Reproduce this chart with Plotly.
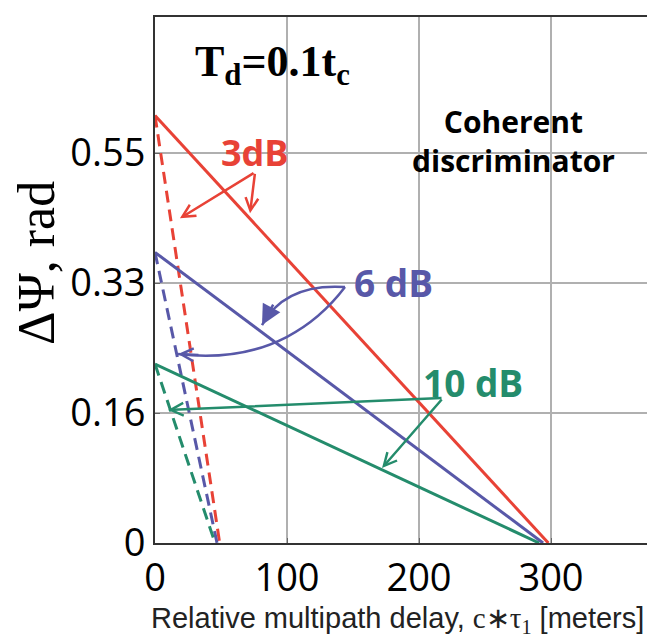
import plotly.graph_objects as go

# ---- data ----
delay_solid_3db = [0, 298]
delay_dash_3db = [0, 49]
psi_3db = [0.603, 0]

delay_solid_6db = [0, 294]
delay_dash_6db = [0, 47]
psi_6db = [0.410, 0]

delay_solid_10db = [0, 291]
delay_dash_10db = [0, 45.5]
psi_10db = [0.2524, 0]

x_tick_vals = [0, 100, 200, 300]
y_tick_vals = [0, 0.18333, 0.36667, 0.55]
y_tick_text = ["0", "0.16", "0.33", "0.55"]

RED = "rgb(232,66,54)"
BLUE = "rgb(88,88,168)"
GREEN = "rgb(36,140,108)"

fig = go.Figure()

def add_pair(xs, xd, y, color):
    fig.add_trace(go.Scatter(x=xs, y=y, mode="lines",
                             line=dict(color=color, width=3), showlegend=False))
    fig.add_trace(go.Scatter(x=xd, y=y, mode="lines",
                             line=dict(color=color, width=3, dash="12px,7px"),
                             showlegend=False))

add_pair(delay_solid_3db, delay_dash_3db, psi_3db, RED)
add_pair(delay_solid_6db, delay_dash_6db, psi_6db, BLUE)
add_pair(delay_solid_10db, delay_dash_10db, psi_10db, GREEN)

ann = []

def arrow(hx, hy, tx, ty, color, head=5, size=1.0):
    ann.append(dict(x=hx, y=hy, ax=tx, ay=ty, xref="x", yref="y",
                    axref="x", ayref="y", text="", showarrow=True,
                    arrowhead=head, arrowsize=size, arrowwidth=2.5,
                    arrowcolor=color))

# 3 dB arrows
arrow(18.9, 0.458, 75.8, 0.523, RED)
arrow(72.0, 0.465, 75.8, 0.523, RED)
# 10 dB arrows
arrow(9.85, 0.1876, 218.2, 0.2045, GREEN)
arrow(172.0, 0.1058, 218.2, 0.2045, GREEN)

shapes = [
    dict(type="path", xref="x", yref="y",
         path="M 143.94,0.3610 Q 98.48,0.3667 81.06,0.3074",
         line=dict(color=BLUE, width=2.5)),
    dict(type="path", xref="x", yref="y",
         path="M 143.94,0.3610 C 125.0,0.3145 87.12,0.2510 17.42,0.2665",
         line=dict(color=BLUE, width=2.5)),
]
# arrowheads of curved 6 dB arrows
ann.append(dict(x=81.06, y=0.3074, ax=12, ay=-22, xref="x", yref="y",
                text="", showarrow=True, arrowhead=2, arrowsize=1.6,
                arrowwidth=2.5, arrowcolor=BLUE))
ann.append(dict(x=17.42, y=0.2665, ax=22, ay=1, xref="x", yref="y",
                text="", showarrow=True, arrowhead=5, arrowsize=1.0,
                arrowwidth=2.5, arrowcolor=BLUE))

# labels
lab_font = "Open Sans"
FIG_W = 665
L, T, W, H = 155, 17, float(665 - 155), 526.0

def px(x):
    return (x - L) / W

def py(y):
    return (T + H - y) / H

ann += [
    dict(x=75.8, y=0.551, xref="x", yref="y", text="<b>3dB</b>", showarrow=False,
         font=dict(family=lab_font, size=36, color=RED)),
    dict(x=180.3, y=0.368, xref="x", yref="y", text="<b>6 dB</b>", showarrow=False,
         font=dict(family=lab_font, size=37, color=BLUE)),
    dict(x=240.9, y=0.2271, xref="x", yref="y", text="<b>10 dB</b>", showarrow=False,
         font=dict(family=lab_font, size=37, color=GREEN)),
    dict(x=px(513), y=py(141), xref="paper", yref="paper",
         text="<b>Coherent<br>discriminator</b>", showarrow=False,
         font=dict(family=lab_font, size=30, color="black")),
    dict(x=px(272), y=py(64), xref="paper", yref="paper",
         text="<b>T<sub>d</sub>=0.1t<sub>c</sub></b>", showarrow=False,
         font=dict(family="Liberation Serif", size=44, color="black")),
    dict(x=px(36), y=py(263), xref="paper", yref="paper",
         text="ΔΨ, rad", textangle=-90, showarrow=False,
         font=dict(family="Liberation Serif", size=52, color="black")),
    dict(x=px(397), y=py(620), xref="paper", yref="paper",
         text="Relative multipath delay, <span style='font-family:Liberation Serif'>c∗τ<sub>1</sub></span> [meters]",
         showarrow=False,
         font=dict(family="Liberation Sans", size=29, color="#222")),
]
for a in ann:
    if not a.get("showarrow"):
        a["xanchor"] = "center"
        a["yanchor"] = "middle"

fig.update_layout(
    width=FIG_W, height=640,
    margin=dict(l=L, r=0, t=T, b=640 - T - int(H)),
    plot_bgcolor="white", paper_bgcolor="white",
    showlegend=False,
    annotations=ann, shapes=shapes,
    xaxis=dict(range=[0, W / 1.32], tickvals=x_tick_vals,
               showgrid=True, gridcolor="#b0b0b0", gridwidth=1.5,
               showline=True, linecolor="#333", linewidth=2, mirror=True,
               ticks="inside", ticklen=5, tickcolor="#666",
               tickfont=dict(family=lab_font, size=38, color="black"),
               zeroline=False),
    yaxis=dict(range=[0, 0.742], tickvals=y_tick_vals, ticktext=y_tick_text,
               showgrid=True, gridcolor="#b0b0b0", gridwidth=1.5,
               showline=True, linecolor="#333", linewidth=2,
               ticks="inside", ticklen=5, tickcolor="#666",
               tickfont=dict(family=lab_font, size=38, color="black"),
               zeroline=False),
)

fig.write_html(
    "out.html",
    config={"displayModeBar": False},
    post_script="document.body.style.margin='0';document.body.style.overflow='hidden';",
)
